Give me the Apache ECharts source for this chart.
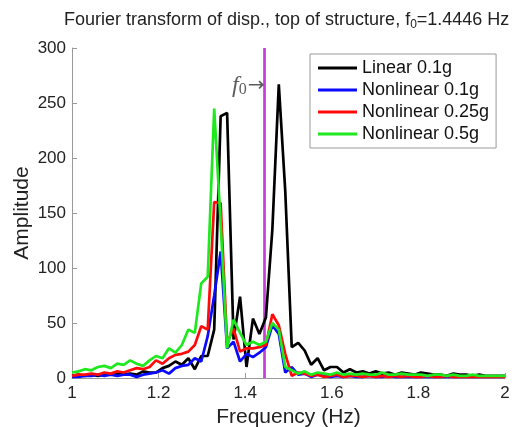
<!DOCTYPE html>
<html>
<head>
<meta charset="utf-8">
<script src="https://cdn.jsdelivr.net/npm/echarts@6/dist/echarts.min.js"></script>
<style>
  html, body { margin: 0; padding: 0; background: #fff; }
  #chart { width: 521px; height: 427px; }
</style>
</head>
<body>
<div id="chart"></div>
<script>
// Frequency bins (Hz)
const freq = [
  1.0000, 1.0149, 1.0299, 1.0448, 1.0597, 1.0746, 1.0896, 1.1045, 1.1194, 1.1343,
  1.1493, 1.1642, 1.1791, 1.1940, 1.2090, 1.2239, 1.2388, 1.2537, 1.2687, 1.2836,
  1.2985, 1.3134, 1.3284, 1.3433, 1.3582, 1.3731, 1.3881, 1.4030, 1.4179, 1.4328,
  1.4478, 1.4627, 1.4776, 1.4925, 1.5075, 1.5224, 1.5373, 1.5522, 1.5672, 1.5821,
  1.5970, 1.6119, 1.6269, 1.6418, 1.6567, 1.6716, 1.6866, 1.7015, 1.7164, 1.7313,
  1.7463, 1.7612, 1.7761, 1.7910, 1.8060, 1.8209, 1.8358, 1.8507, 1.8657, 1.8806,
  1.8955, 1.9104, 1.9254, 1.9403, 1.9552, 1.9701, 1.9851, 2.0000
];

// Spectrum amplitudes per record
const linear01 = [
  2, 3, 2, 3, 2, 3, 3, 4, 3, 4,
  3, 6, 5, 5, 9, 11, 15, 12, 18, 8,
  20, 20, 44, 238, 241, 35, 74, 10, 54, 40,
  55, 135, 267, 170, 28, 32, 25, 12, 18, 7,
  10, 10, 5, 8, 5, 6, 4, 6, 4, 5,
  3, 5, 4, 3, 5, 4, 3, 3, 2, 4,
  3, 3, 2, 3, 2, 2, 2, 2
];
const nonlinear01 = [
  1, 1, 2, 2, 3, 2, 3, 2, 3, 3,
  1, 3, 4, 5, 7, 4, 9, 11, 12, 18,
  15, 38, 75, 115, 27, 33, 15, 22, 19, 23,
  28, 48, 40, 5, 10, 3, 4, 1, 3, 2,
  1, 2, 1, 2, 1, 1, 2, 1, 1, 2,
  1, 1, 1, 1, 1, 1, 1, 1, 1, 1,
  1, 1, 1, 1, 1, 1, 1, 1
];
const nonlinear025 = [
  2, 3, 3, 4, 3, 5, 4, 6, 5, 7,
  9, 8, 10, 16, 13, 18, 21, 22, 24, 30,
  47, 44, 160, 159, 32, 45, 24, 27, 27, 28,
  30, 58, 48, 22, 2, 5, 4, 2, 3, 1,
  2, 3, 1, 2, 2, 1, 2, 1, 2, 1,
  2, 1, 2, 1, 1, 2, 1, 1, 2, 1,
  1, 1, 1, 1, 1, 1, 1, 1
];
const nonlinear05 = [
  5, 6, 8, 7, 10, 11, 9, 13, 12, 16,
  13, 11, 16, 20, 18, 27, 23, 30, 44, 41,
  86, 92, 245, 140, 27, 53, 41, 30, 33, 30,
  33, 50, 44, 10, 7, 4, 6, 3, 5, 4,
  3, 5, 3, 4, 3, 4, 3, 3, 5, 3,
  3, 4, 3, 3, 3, 2, 3, 3, 2, 3,
  2, 2, 3, 2, 2, 2, 2, 2
];

const seriesNames = ['Linear 0.1g', 'Nonlinear 0.1g', 'Nonlinear 0.25g', 'Nonlinear 0.5g'];
const seriesValues = [linear01, nonlinear01, nonlinear025, nonlinear05];
const seriesColors = ['#000000', '#0a0aff', '#ff0a0a', '#1ee81e'];

// Natural frequency of the structure
const f0 = 1.4446;
const f0LabelAmp = 266;

const FONT = '"Liberation Sans", Arial, sans-serif';
const SERIF = '"Liberation Serif", "DejaVu Serif", serif';

const chart = echarts.init(document.getElementById('chart'), null, { renderer: 'canvas' });

const lineSeries = seriesNames.map((name, s) => ({
  name: name,
  type: 'line',
  data: freq.map((f, i) => [f, seriesValues[s][i]]),
  showSymbol: false,
  symbol: 'none',
  lineStyle: { color: seriesColors[s], width: 2.7 },
  itemStyle: { color: seriesColors[s] },
  z: 3 + s
}));

const axisCommon = {
  axisLine: { show: true, lineStyle: { color: '#9a9a9a', width: 1 } },
  axisTick: { show: true, inside: true, length: 5, lineStyle: { color: '#9a9a9a' } },
  axisLabel: { color: '#222', fontSize: 17, fontFamily: FONT },
  splitLine: { show: false },
  nameLocation: 'middle',
  nameMoveOverlap: false,
  nameTextStyle: { color: '#222', fontSize: 21, fontFamily: FONT }
};

chart.setOption({
  animation: false,
  backgroundColor: '#fff',
  title: {
    text: '{a|Fourier transform of disp., top of structure, f}{b|0}{a|=1.4446 Hz}',
    left: 59,
    top: 4,
    textStyle: {
      fontWeight: 'normal',
      rich: {
        a: { fontSize: 18, fontWeight: 'normal', color: '#222', fontFamily: FONT, lineHeight: 22 },
        b: { fontSize: 12, fontWeight: 'normal', color: '#222', fontFamily: FONT, padding: [10, 0, 0, 0], lineHeight: 22 }
      }
    }
  },
  legend: {
    data: seriesNames,
    orient: 'vertical',
    left: 310,
    top: 54,
    icon: 'rect',
    itemWidth: 39,
    itemHeight: 3,
    itemGap: 0,
    padding: [3, 7, 3, 8],
    backgroundColor: '#fff',
    borderColor: '#9a9a9a',
    borderWidth: 1,
    borderRadius: 0,
    textStyle: { color: '#111', fontSize: 18, fontFamily: FONT, lineHeight: 22 }
  },
  grid: { left: 72, right: 16, top: 48, bottom: 49, outerBoundsMode: 'none' },
  xAxis: Object.assign({}, axisCommon, {
    type: 'value',
    min: 1,
    max: 2,
    interval: 0.2,
    name: 'Frequency (Hz)',
    nameGap: 29,
    axisLabel: Object.assign({}, axisCommon.axisLabel, { margin: 7 })
  }),
  yAxis: Object.assign({}, axisCommon, {
    type: 'value',
    min: 0,
    max: 300,
    interval: 50,
    name: 'Amplitude',
    nameGap: 39,
    axisLabel: Object.assign({}, axisCommon.axisLabel, { margin: 6 })
  }),
  series: [
    {
      name: 'f0',
      type: 'line',
      data: [[f0, 0], [f0, 300]],
      showSymbol: false,
      symbol: 'none',
      lineStyle: { color: '#c43fd6', width: 2.7 },
      z: 2,
      silent: true
    },
    ...lineSeries,
    {
      name: 'f0 label',
      type: 'scatter',
      data: [[f0, f0LabelAmp]],
      symbolSize: 0,
      silent: true,
      z: 10,
      label: {
        show: true,
        position: 'left',
        distance: 0,
        formatter: '{f|f}{s|0}{a|→}',
        rich: {
          f: { fontFamily: SERIF, fontStyle: 'italic', fontSize: 24, color: '#333' },
          s: { fontFamily: SERIF, fontSize: 16, color: '#333', padding: [8, 0, 0, 0] },
          a: { fontFamily: '"DejaVu Sans", sans-serif', fontSize: 20, color: '#333', padding: [0, 0, 0, 1] }
        }
      }
    }
  ]
});
</script>
</body>
</html>
